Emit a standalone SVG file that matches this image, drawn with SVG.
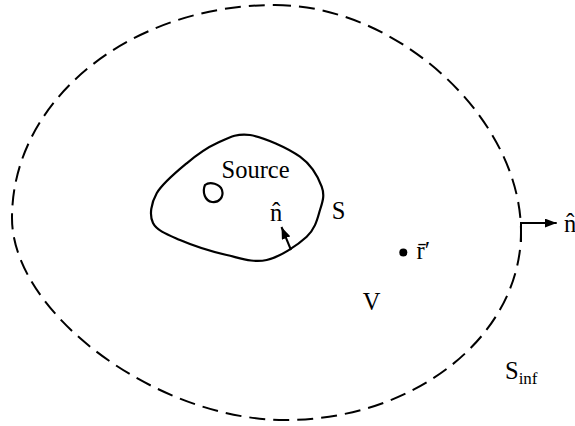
<svg xmlns="http://www.w3.org/2000/svg" width="575" height="426" viewBox="0 0 575 426">
<style>
text{font-family:'Liberation Serif','Times New Roman',serif;font-size:24.5px;fill:#000}
.sub{font-size:17px}
.solid{fill:none;stroke:#000;stroke-width:2.2}
.dash{fill:none;stroke:#000;stroke-width:2;stroke-dasharray:16 8}
.arr{fill:none;stroke:#000;stroke-width:2}
</style>
<defs>
<marker id="ah" markerUnits="userSpaceOnUse" markerWidth="12" markerHeight="9" refX="12" refY="4.5" orient="auto">
<path d="M0,0 L12,4.5 L0,9 Z" fill="#000"/>
</marker>
</defs>
<rect width="575" height="426" fill="#fff"/>
<g id="S_inf">
<path class="dash" d="M275,5 C398,5 521,119 521,232 C521,336 415,420 285,420 C157,420 12,313 12,218 C12,100 130,5 275,5 Z"/>
<text x="505" y="379.3">S<tspan class="sub" dy="4.7">inf</tspan></text>
</g>
<g id="S">
<path class="solid" d="M250,135 C263.9,137.2 288.05,148.08 300,156.7 C311.95,165.3 318.4,177.8 321.7,186.7 C325,195.6 322.5,201.7 320,210 C317.5,218.3 315.6,228.4 306.7,236.7 C297.8,245 280,256.95 266.7,260 C253.4,263.05 241.15,258.3 226.7,255 C212.25,251.7 192.3,245.3 180,240 C167.7,234.7 156.9,230.8 153,223 C149.1,215.2 151.1,203.25 156.7,193.3 C162.3,183.35 176.7,171.6 186.7,163.3 C196.7,155 206.15,148 216.7,143.3 C227.25,138.6 236.1,132.8 250,135 Z"/>
<text x="331.7" y="219">S</text>
</g>
<g id="source">
<path class="solid" d="M205,185 C210,181 220,184 222,190 C224,197 219,203 212,202 C205,201 202,192 205,185 Z"/>
<text x="221.5" y="178.3">Source</text>
</g>
<g id="point_r">
<circle cx="403.3" cy="252.5" r="4" fill="#000"/>
<text x="416.5" y="259">r̄′</text>
</g>
<g id="V">
<text x="362.7" y="310">V</text>
</g>
<g id="normal_inner">
<text x="270" y="220.5">n̂</text>
</g>
<g id="normal_outer">
<text x="564" y="231.7">n̂</text>
</g>
<g id="connectors">
<line class="arr" x1="291" y1="250" x2="281.5" y2="227" marker-end="url(#ah)"/>
<polyline class="arr" points="521,242 521,223 556.7,223" marker-end="url(#ah)"/>
</g>
</svg>
